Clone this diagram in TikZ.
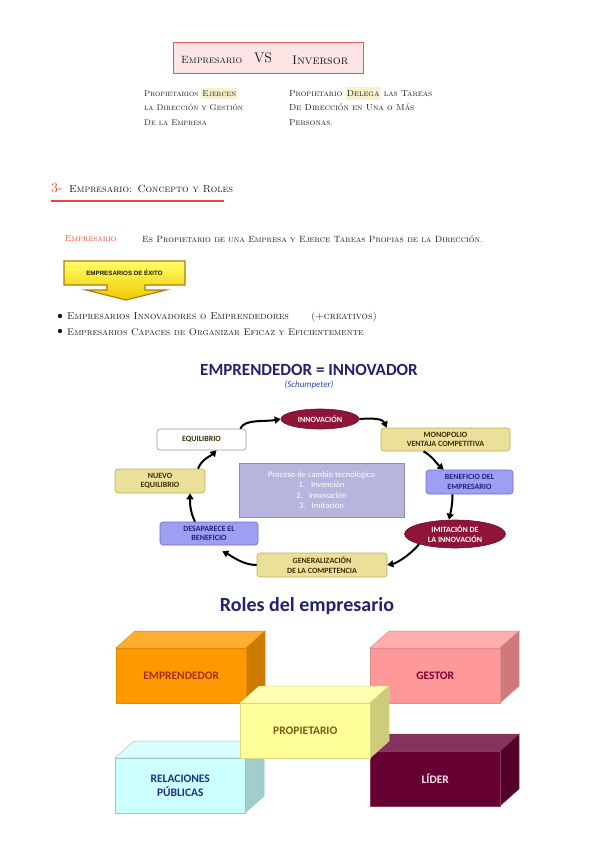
\documentclass[tikz,border=0pt]{standalone}
\usepackage{fontspec}
\newfontfamily\carl{Carlito}
\newfontfamily\libsans{Liberation Sans}
\usetikzlibrary{shapes.geometric,arrows.meta,calc}

\definecolor{titlebd}{HTML}{E05A5A}
\definecolor{titlefill}{HTML}{FBE4E4}
\definecolor{redink}{HTML}{E8453C}
\definecolor{ink}{HTML}{1A1A1A}
\definecolor{hl}{HTML}{FAF1CC}
\definecolor{navy}{HTML}{22226E}
\definecolor{schum}{HTML}{3444A8}
\definecolor{khakiF}{HTML}{EAE09A}
\definecolor{khakiD}{HTML}{BFAE5A}
\definecolor{khakiT}{HTML}{3A2E08}
\definecolor{lavF}{HTML}{9E9EF2}
\definecolor{lavD}{HTML}{6C6CCC}
\definecolor{lavT}{HTML}{22227A}
\definecolor{ovalF}{HTML}{8E1538}
\definecolor{ovalD}{HTML}{6A0F28}
\definecolor{procF}{HTML}{B5B5DD}
\definecolor{procD}{HTML}{8C8CB0}
\definecolor{eqD}{HTML}{9A9A9A}
\definecolor{calTop}{HTML}{FFFF66}
\definecolor{calBot}{HTML}{F0C800}
\definecolor{calD}{HTML}{B07A10}
% role boxes
\definecolor{empF}{HTML}{FF9900}\definecolor{empT}{HTML}{FFAD33}\definecolor{empS}{HTML}{CC7A00}\definecolor{empD}{HTML}{E08A00}\definecolor{empX}{HTML}{A0301A}
\definecolor{gesF}{HTML}{FF9999}\definecolor{gesT}{HTML}{FFADAD}\definecolor{gesS}{HTML}{CC7A7A}\definecolor{gesD}{HTML}{E08A8A}\definecolor{gesX}{HTML}{800030}
\definecolor{proF}{HTML}{FFFF99}\definecolor{proT}{HTML}{FFFFB3}\definecolor{proS}{HTML}{CCCC7A}\definecolor{proD}{HTML}{D8D880}\definecolor{proX}{HTML}{7A5A10}
\definecolor{relF}{HTML}{CCFFFF}\definecolor{relT}{HTML}{D9FFFF}\definecolor{relS}{HTML}{A3CCCC}\definecolor{relD}{HTML}{99C4CC}\definecolor{relX}{HTML}{1F2F80}
\definecolor{lidF}{HTML}{660033}\definecolor{lidT}{HTML}{85335C}\definecolor{lidS}{HTML}{520029}\definecolor{lidD}{HTML}{8A3A60}\definecolor{lidX}{HTML}{FFE6EE}

\newcommand\rolebox[6]{%
  \filldraw[fill=#3T,draw=#3D,line width=0.5pt] (#1,#2) -- ++(19,-17) -- ++(130,0) -- ++(-19,17) -- cycle;
  \filldraw[fill=#3S,draw=#3D,line width=0.5pt] (#1+130,#2) -- ++(19,-17) -- ++(0,55) -- ++(-19,17) -- cycle;
  \node[fill=#3F,draw=#3D,line width=0.5pt,minimum width=130pt,minimum height=55pt,anchor=north west,inner sep=0pt,text=#5,font=\carl\bfseries\fontsize{11.5}{13.5}\selectfont,align=center] (#4) at (#1,#2) {#6};
}

\begin{document}
\begin{tikzpicture}[x=1pt,y=-1pt,
  hand/.style={font=\fontsize{9}{11}\selectfont\scshape, text=ink, anchor=west, inner sep=0pt},
  cyc/.style={draw, rounded corners=3pt, font=\carl\bfseries\fontsize{8}{9.5}\selectfont, align=center, inner sep=1pt, line width=0.6pt},
  khaki/.style={cyc, fill=khakiF, draw=khakiD, text=khakiT},
  lav/.style={cyc, fill=lavF, draw=lavD, text=lavT},
  oval/.style={ellipse, fill=ovalF, draw=ovalD, text=white, font=\carl\bfseries\fontsize{8}{9.5}\selectfont, align=center, inner sep=0pt, line width=0.6pt},
  cyarrow/.style={line width=2pt, -{Triangle[length=6pt,width=7pt]}},
]
\useasboundingbox[fill=white] (0,0) rectangle (599,848);

% ---- Empresario vs Inversor
\node[draw=titlebd, fill=titlefill, line width=1pt, minimum width=190pt, minimum height=31pt] (vs) at (268,58.5) {};
\node[hand, font=\fontsize{10.5}{12}\selectfont\scshape] (vemp) at (181,60) {Empresario};
\node[anchor=west, inner sep=0pt, font=\fontsize{14}{15}\selectfont, text=ink] (vvs) at (254,58) {VS};
\node[hand, font=\fontsize{12.5}{14}\selectfont\scshape] (vinv) at (292,60) {Inversor};

\node[hand, align=left, font=\fontsize{8.3}{14.5}\selectfont\scshape] (lblock) at (144,106.5) {Propietarios \colorbox{hl}{\kern-2pt Ejercen\kern-2pt}\\la Dirección y Gestión\\De la Empresa};
\node[hand, align=left, font=\fontsize{8.8}{14.5}\selectfont\scshape] (rblock) at (289,106.5) {Propietario \colorbox{hl}{\kern-2pt Delega\kern-2pt} las Tareas\\De Dirección en Una o Más\\Personas.};

% ---- Section 3
\node[anchor=west, inner sep=0pt, text=redink, font=\fontsize{14}{15}\selectfont] (sec3) at (51,188) {3-};
\node[hand, font=\fontsize{10.3}{12}\selectfont\scshape] (sectitle) at (69,189) {Empresario: Concepto y Roles};
\draw[redink, line width=1.3pt] (sec3.south west |- 0,201) coordinate (ul1) -- (224,201) coordinate (ul2);

\node[hand, text=redink, font=\fontsize{8.8}{10}\selectfont\scshape] (defw) at (65,239) {Empresario};
\node[hand, font=\fontsize{9}{10}\selectfont\scshape] (defs) at (142,239) {Es Propietario de una Empresa y Ejerce Tareas Propias de la Dirección.};

% ---- callout
\path[draw=calD, line width=1.2pt, top color=calTop, bottom color=calBot, line join=miter]
  (64,261) -- (185,261) -- (185,285) -- (145,285) -- (145,290) -- (166,290) -- (126,300)
  -- (86,290) -- (107,290) -- (107,285) -- (64,285) -- cycle;
\node[inner sep=0pt, font=\libsans\bfseries\fontsize{6.2}{7}\selectfont, text=ink] (exito) at (124.5,272.5) {EMPRESARIOS DE ÉXITO};

% bullets
\fill[ink] (60,316) circle (2.2pt) coordinate (b1);
\fill[ink] (60,331) circle (2.2pt) coordinate (b2);
\node[hand, font=\fontsize{10}{11}\selectfont\scshape] (bul1) at (67,317) {Empresarios Innovadores o Emprendedores\hspace{22pt}(+creativos)};
\node[hand, font=\fontsize{9.6}{11}\selectfont\scshape] (bul2) at (67,332) {Empresarios Capaces de Organizar Eficaz y Eficientemente};

% ---- Schumpeter cycle
\node[font=\carl\bfseries\fontsize{17}{19}\selectfont, text=navy, inner sep=0pt] (emtitle) at (309,370) {EMPRENDEDOR = INNOVADOR};
\node[font=\carl\itshape\fontsize{9}{10}\selectfont, text=schum, inner sep=0pt] (schum) at (309,385) {(Schumpeter)};

\node[oval, minimum width=78pt, minimum height=20pt] (inno) at (320,419) {INNOVACIÓN};
\node[cyc, fill=white, draw=eqD, text=khakiT, minimum width=89pt, minimum height=21pt] (eq) at (201.5,439.5) {EQUILIBRIO};
\node[khaki, minimum width=129pt, minimum height=23pt] (mono) at (445.5,439.5) {MONOPOLIO\\VENTAJA COMPETITIVA};
\node[lav, minimum width=87pt, minimum height=24pt] (benef) at (469.5,482) {BENEFICIO DEL\\EMPRESARIO};
\node[oval, minimum width=101pt, minimum height=28pt] (imit) at (455,534) {IMITACIÓN DE\\LA INNOVACIÓN};
\node[khaki, minimum width=130pt, minimum height=24pt] (gen) at (322,565) {GENERALIZACIÓN\\DE LA COMPETENCIA};
\node[lav, minimum width=98pt, minimum height=23pt] (desap) at (209,533.5) {DESAPARECE EL\\BENEFICIO};
\node[khaki, minimum width=90pt, minimum height=24pt] (nuevo) at (160,481) {NUEVO\\EQUILIBRIO};
\node[draw=procD, fill=procF, line width=0.6pt, minimum width=165pt, minimum height=54pt, text=white, align=center, font=\carl\fontsize{8.5}{10.5}\selectfont, inner sep=1pt] (proc) at (321.5,490)
  {Proceso de cambio tecnológico\\1.\hspace{6pt}Invención\\2.\hspace{6pt}Innovación\\3.\hspace{6pt}Imitación};

\draw[cyarrow] ($(eq.north east)+(-6,0)$) .. controls +(4,-10) and +(-16,3) .. (inno.west);
\draw[cyarrow] (inno.east) .. controls +(14,-1) and +(-4,-9) .. ($(mono.north west)+(6,0)$);
\draw[cyarrow] ($(mono.south)+(-22,0)$) .. controls +(10,6) and +(-8,-7) .. ($(benef.north west)+(18,0)$);
\draw[cyarrow] ($(benef.south)+(-17,0)$) .. controls +(0,10) and +(2,-9) .. ($(imit.north)+(-6,0)$);
\draw[cyarrow] (imit.south west) .. controls +(-8,10) and +(10,-2) .. (gen.east);
\draw[cyarrow] (gen.west) .. controls +(-14,0) and +(10,5) .. ($(desap.south east)+(-36,6)$);
\draw[cyarrow] ($(desap.north)+(-14,0)$) .. controls +(-5,-10) and +(0,10) .. ($(nuevo.south)+(30,0)$);
\draw[cyarrow] ($(nuevo.north)+(38,0)$) .. controls +(4,-10) and +(-6,6) .. ($(eq.south)+(15,0)$);

% ---- Roles del empresario
\node[font=\carl\bfseries\fontsize{20}{22}\selectfont, text=navy, inner sep=0pt] (roles) at (307,606) {Roles del empresario};

\rolebox{116}{648}{emp}{emprend}{empX}{EMPRENDEDOR}
\rolebox{370}{648}{ges}{gestor}{gesX}{GESTOR}
\rolebox{115}{758}{rel}{relac}{relX}{RELACIONES\\PÚBLICAS}
\rolebox{370}{751}{lid}{lider}{lidX}{LÍDER}
\rolebox{240}{703}{pro}{propiet}{proX}{PROPIETARIO}

\end{tikzpicture}
\end{document}
